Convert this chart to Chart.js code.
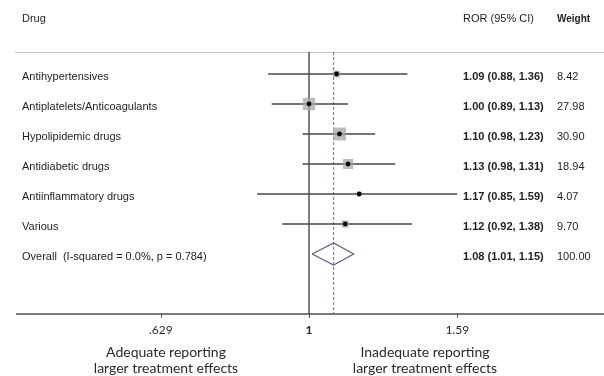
<!DOCTYPE html>
<html>
<head>
<meta charset="utf-8">
<title>Forest plot – reporting ratio of odds by drug class</title>
<script src="https://cdn.jsdelivr.net/npm/chart.js@4.4.1/dist/chart.umd.min.js"></script>
<style>
  html, body { margin: 0; padding: 0; background: #ffffff; }
  #wrap { width: 604px; height: 376px; }
</style>
</head>
<body>
<div id="wrap"><canvas id="forest" width="604" height="376"></canvas></div>
<script>
// Drug classes and their pooled ratio of odds ratios (ROR) with 95% CI
const drugs = [
  'Antihypertensives',
  'Antiplatelets/Anticoagulants',
  'Hypolipidemic drugs',
  'Antidiabetic drugs',
  'Antiinflammatory drugs',
  'Various'
];
const ror     = [1.09, 1.00, 1.10, 1.13, 1.17, 1.12];
const ciLow   = [0.88, 0.89, 0.98, 0.98, 0.85, 0.92];
const ciHigh  = [1.36, 1.13, 1.23, 1.31, 1.59, 1.38];
const weights = [8.42, 27.98, 30.90, 18.94, 4.07, 9.70];

// Pooled estimate
const overallLabel  = 'Overall  (I-squared = 0.0%, p = 0.784)';
const overallRor    = 1.08;
const overallLow    = 1.01;
const overallHigh   = 1.15;
const overallWeight = 100.00;

// Axis
const xTicks      = [0.629, 1, 1.59];
const xTickLabels = ['.629', '1', '1.59'];
const xMin = 0.4, xMax = 2.5;
const leftNote  = ['Adequate reporting', 'larger treatment effects'];
const rightNote = ['Inadequate reporting', 'larger treatment effects'];

// Row layout in y-units (one unit per study row)
const yTop = -0.7333, yBottom = 8;
const overallRow = drugs.length;
const diamondHalf = 0.367;

const fmt = v => v.toFixed(2);
const ciText = (e, l, h) => `${fmt(e)} (${fmt(l)}, ${fmt(h)})`;

const datasets = [];

// Confidence-interval whiskers
drugs.forEach((d, i) => {
  datasets.push({
    data: [{ x: ciLow[i], y: i }, { x: ciHigh[i], y: i }],
    showLine: true, borderColor: '#474747', borderWidth: 1.5,
    pointRadius: 0, order: 3
  });
});

// Weight boxes (area proportional to weight)
datasets.push({
  data: drugs.map((d, i) => ({ x: ror[i], y: i, w: weights[i] })),
  pointStyle: 'rect',
  pointRadius: ctx => 1.65 * Math.sqrt(ctx.raw.w),
  backgroundColor: 'rgba(165,165,165,0.75)',
  borderWidth: 0, order: 1
});

// Point estimates
datasets.push({
  data: drugs.map((d, i) => ({ x: ror[i], y: i })),
  pointStyle: 'circle', pointRadius: 2.4,
  backgroundColor: '#000000', borderWidth: 0, order: 0
});

// Pooled diamond
datasets.push({
  data: [
    { x: overallLow,  y: overallRow },
    { x: overallRor,  y: overallRow - diamondHalf },
    { x: overallHigh, y: overallRow },
    { x: overallRor,  y: overallRow + diamondHalf },
    { x: overallLow,  y: overallRow }
  ],
  showLine: true, borderColor: '#5c5c94', borderWidth: 1.2,
  pointRadius: 0, order: 2
});

// Line of no effect
datasets.push({
  data: [{ x: 1, y: yTop }, { x: 1, y: yBottom }],
  showLine: true, borderColor: '#2a2a2a', borderWidth: 1.2,
  pointRadius: 0, order: 4
});

// Pooled estimate reference line
datasets.push({
  data: [{ x: overallRor, y: yTop }, { x: overallRor, y: yBottom }],
  showLine: true, borderColor: '#b45a68', borderWidth: 1,
  borderDash: [3, 2], pointRadius: 0, order: 5
});

const forestText = {
  id: 'forestText',
  beforeDatasetsDraw(chart) {
    const { ctx, chartArea, scales } = chart;
    const xs = scales.x;
    ctx.save();
    // header rule
    ctx.strokeStyle = '#c4c4c4';
    ctx.lineWidth = 1;
    ctx.beginPath();
    ctx.moveTo(15, chartArea.top + 0.5);
    ctx.lineTo(604, chartArea.top + 0.5);
    ctx.stroke();
    // x axis line and ticks
    ctx.strokeStyle = '#7a7a7a';
    ctx.lineWidth = 2;
    ctx.beginPath();
    ctx.moveTo(16, chartArea.bottom);
    ctx.lineTo(604, chartArea.bottom);
    ctx.stroke();
    ctx.lineWidth = 1;
    ctx.strokeStyle = '#555';
    xTicks.forEach(t => {
      const px = Math.round(xs.getPixelForValue(t)) + 0.5;
      ctx.beginPath();
      ctx.moveTo(px, chartArea.bottom);
      ctx.lineTo(px, chartArea.bottom + 4);
      ctx.stroke();
    });
    ctx.restore();
  },
  afterDraw(chart) {
    const { ctx, chartArea, scales } = chart;
    const xs = scales.x, ys = scales.y;
    ctx.save();
    ctx.fillStyle = '#1e1e1e';
    ctx.textBaseline = 'middle';
    const sans = '"Liberation Sans", Arial, sans-serif';

    // column headers
    ctx.font = `11px ${sans}`;
    ctx.textAlign = 'left';
    ctx.fillText('Drug', 22, 19);
    ctx.fillText('ROR (95% CI)', 463, 19);
    ctx.font = `bold 10px ${sans}`;
    ctx.fillText('Weight', 557, 19);

    // rows
    const rowText = (label, e, l, h, w, row) => {
      const y = ys.getPixelForValue(row) + 3;
      ctx.font = `11px ${sans}`;
      ctx.fillText(label, 22, y);
      ctx.font = `bold 11px ${sans}`;
      ctx.fillText(ciText(e, l, h), 463, y);
      ctx.font = `11px ${sans}`;
      ctx.fillText(fmt(w), 557, y);
    };
    drugs.forEach((d, i) => rowText(d, ror[i], ciLow[i], ciHigh[i], weights[i], i));
    rowText(overallLabel, overallRor, overallLow, overallHigh, overallWeight, overallRow);

    // tick labels
    const lato = 'Lato, "Open Sans", sans-serif';
    ctx.textAlign = 'center';
    ctx.fillStyle = '#2a2a2a';
    xTicks.forEach((t, k) => {
      ctx.font = (t === 1 ? 'bold ' : '') + `12px ${lato}`;
      ctx.fillText(xTickLabels[k], xs.getPixelForValue(t), chartArea.bottom + 16);
    });

    // direction notes
    ctx.font = `14px ${lato}`;
    ctx.fillText(leftNote[0], 166, 352);
    ctx.fillText(leftNote[1], 166, 368);
    ctx.fillText(rightNote[0], 425, 352);
    ctx.fillText(rightNote[1], 425, 368);
    ctx.restore();
  }
};

new Chart(document.getElementById('forest'), {
  type: 'scatter',
  data: { datasets },
  options: {
    responsive: false,
    animation: false,
    events: [],
    layout: { autoPadding: false, padding: { left: 16, right: 2, top: 52, bottom: 62 } },
    plugins: { legend: { display: false }, tooltip: { enabled: false } },
    scales: {
      x: { type: 'logarithmic', min: xMin, max: xMax, display: false },
      y: { type: 'linear', min: yTop, max: yBottom, reverse: true, display: false }
    }
  },
  plugins: [forestText]
});
</script>
</body>
</html>
